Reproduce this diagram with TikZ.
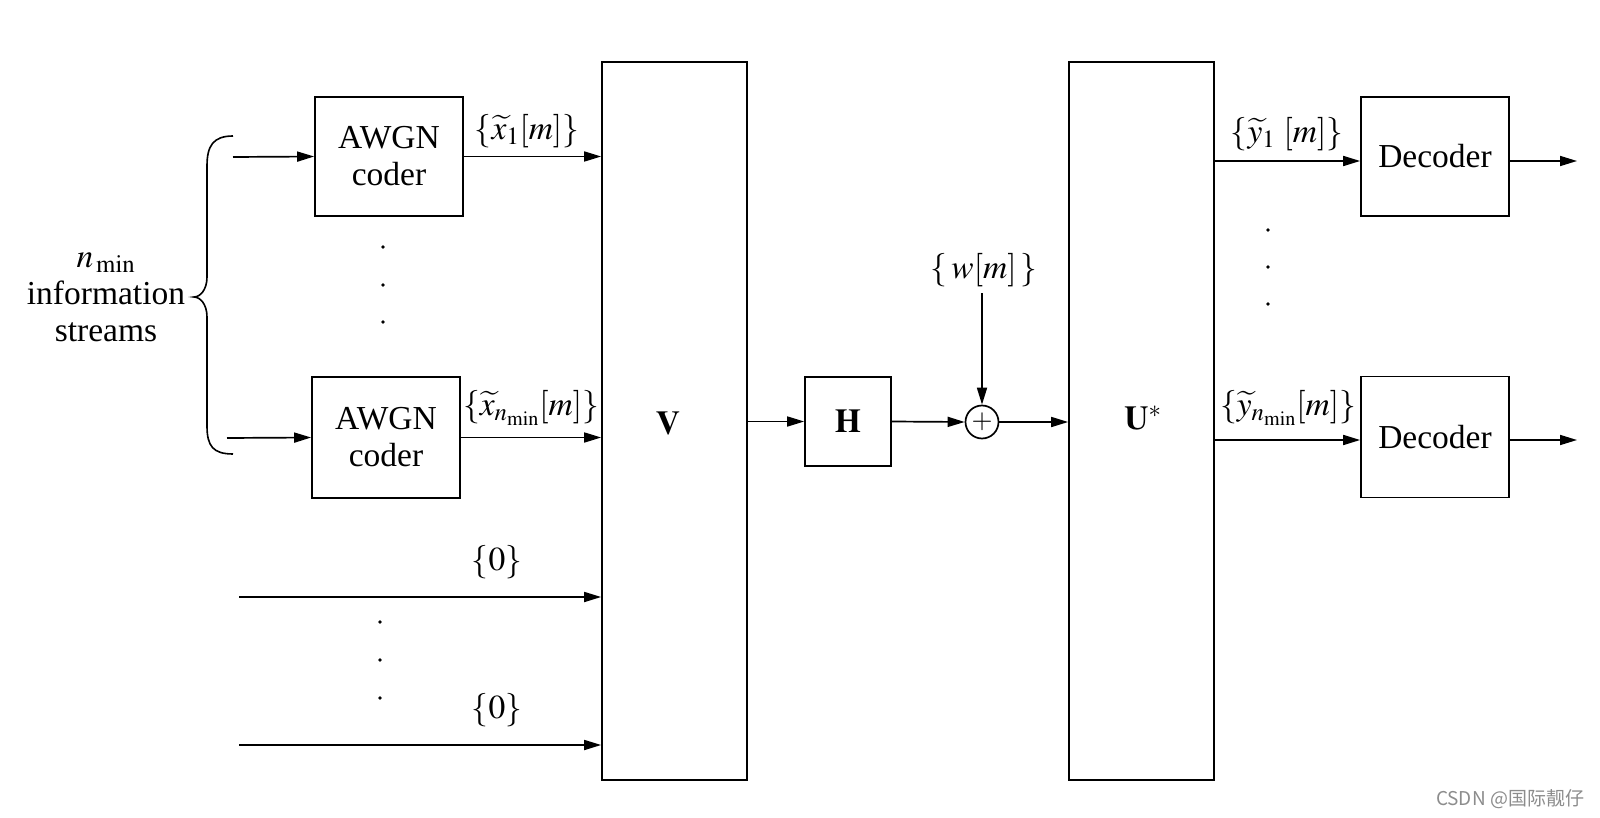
\documentclass[tikz,border=0pt]{standalone}
\usepackage{mathptmx}
\usepackage{fontspec}
\setmainfont{Liberation Serif}
\newfontfamily\cjk{Noto Sans CJK SC}
\usetikzlibrary{arrows.meta,calc}
\begin{document}
\begin{tikzpicture}[x=1pt,y=-1pt,line width=1.7pt,
  arr/.style={-{Triangle[length=17pt,width=10pt]}},
  blk/.style={draw,rectangle,inner sep=0pt,align=center,font=\fontsize{33.5}{37}\selectfont},
  lbl/.style={inner sep=0pt,align=center,font=\fontsize{33.5}{37}\selectfont}]
\useasboundingbox (0,0) rectangle (1600,818);
% blocks
\node[blk,minimum width=148pt,minimum height=119pt] (awgn1) at (389,156.5) {AWGN\\coder};
\node[blk,minimum width=148pt,minimum height=121pt] (awgn2) at (386,437.5) {AWGN\\coder};
\node[blk,minimum width=145pt,minimum height=718pt] (V) at (674.5,421) {};
\node[lbl] (Vlbl) at (668,424) {$\mathbf{V}$};
\node[blk,minimum width=86pt,minimum height=89pt] (H) at (848,421.5) {$\mathbf{H}$};
\node[draw,circle,inner sep=0pt,minimum size=33pt,font=\fontsize{27}{30}\selectfont] (sum) at (982,422) {$+$};
\node[blk,minimum width=145pt,minimum height=718pt] (U) at (1141.5,421) {};
\node[lbl] (Ulbl) at (1143,418) {$\mathbf{U}^{*}$};
\node[blk,minimum width=148pt,minimum height=119pt] (dec1) at (1435,156.5) {Decoder};
\node[blk,minimum width=148pt,minimum height=121pt] (dec2) at (1435,437) {Decoder};
% labels
\node[lbl] (nlbl) at (106,297) {$n_{\,\mathrm{min}}$\\information\\streams};
\node[lbl] (x1) at (527,131) {$\{\widetilde{x}_1[m]\}$};
\node[lbl] (xn) at (531,408) {$\{\widetilde{x}_{n_{\mathrm{min}}}[m]\}$};
\node[lbl] (z1) at (497,562) {$\{0\}$};
\node[lbl] (z2) at (497,710) {$\{0\}$};
\node[lbl] (wl) at (984,270) {$\{\,w[m]\,\}$};
\node[lbl] (y1) at (1287,134) {$\{\widetilde{y}_1\ [m]\}$};
\node[lbl] (yn) at (1288,408) {$\{\widetilde{y}_{n_{\mathrm{min}}}[m]\}$};
\node[inner sep=0pt,text=black!45,font=\cjk\fontsize{19}{21}\selectfont] (wm) at (1510,799) {CSDN @国际靓仔};
% free ends
\coordinate (in1) at (233,157);
\coordinate (in2) at (227,438);
\coordinate (zin1) at (239,597);
\coordinate (zin2) at (239,745);
\coordinate (wtop) at (982,293);
\coordinate (out1) at (1577,161);
\coordinate (out2) at (1577,440);
% connectors
\draw[arr] (in1) -- (awgn1.west);
\draw[arr] (in2) -- (awgn2.west);
\draw[arr] (awgn1.east) -- (awgn1.east -| V.west);
\draw[arr] (awgn2.east) -- (awgn2.east -| V.west);
\draw[arr] (zin1) -- (zin1 -| V.west);
\draw[arr] (zin2) -- (zin2 -| V.west);
\draw[arr] (V.east |- H.west) -- (H.west);
\draw[arr] (H.east) -- (sum.west);
\draw[arr] (wtop) -- (sum.north);
\draw[arr] (sum.east) -- (sum.east -| U.west);
\draw[arr] (U.east |- out1) -- (dec1.west |- out1);
\draw[arr] (U.east |- out2) -- (dec2.west |- out2);
\draw[arr] (dec1.east |- out1) -- (out1);
\draw[arr] (dec2.east |- out2) -- (out2);
% brace
\draw[line width=1.6pt] (233,136) .. controls (213,136) and (207,146) .. (207,166)
  -- (207,277) .. controls (207,290) and (200,297) .. (194,297)
  .. controls (200,297) and (207,304) .. (207,317)
  -- (207,426) .. controls (207,446) and (213,454) .. (233,454);
% dots
\foreach \yy in {247,285,322} \fill (383,\yy) circle (1.9);
\foreach \yy in {622,660,698} \fill (380,\yy) circle (1.9);
\foreach \yy in {230,267,304} \fill (1268,\yy) circle (1.9);
\end{tikzpicture}
\end{document}
